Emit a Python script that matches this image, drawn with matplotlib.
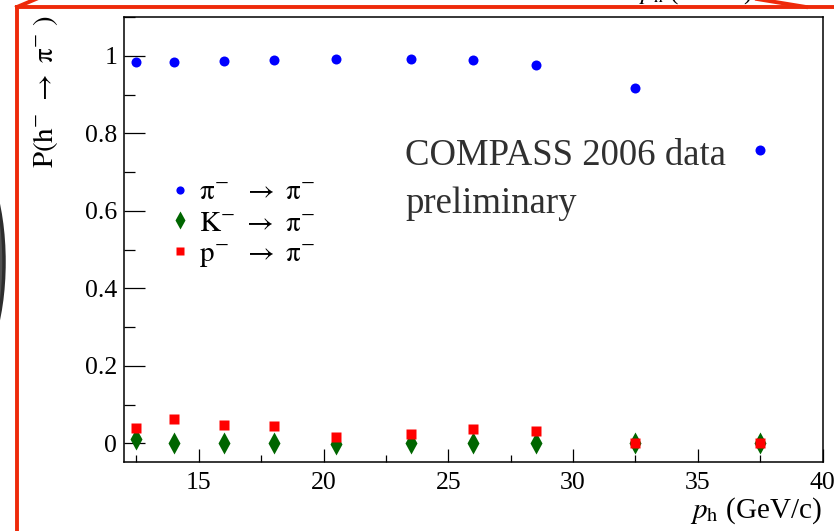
import numpy as np
import matplotlib
matplotlib.use("Agg")
import matplotlib.pyplot as plt
from matplotlib.ticker import MultipleLocator, FuncFormatter
from matplotlib.lines import Line2D
from matplotlib.patches import Ellipse

plt.rcParams['font.family'] = ['Liberation Serif', 'DejaVu Serif']
plt.rcParams['mathtext.fontset'] = 'stix'

# hadron momentum bins (GeV/c)
p_h = [12.5, 14, 16, 18, 20.5, 23.5, 26, 28.5, 32.5, 37.5]

# probability to be identified as pi-
prob_pi = [0.984, 0.984, 0.987, 0.989, 0.991, 0.991, 0.989, 0.977, 0.917, 0.757]
prob_K = [0.012, 0.0, 0.002, 0.001, -0.002, 0.0, 0.001, 0.001, 0.001, 0.002]
prob_p = [0.040, 0.062, 0.048, 0.046, 0.017, 0.023, 0.036, 0.032, 0.0, 0.0]

labels = [r"$\mathrm{\pi}^{-}\ \ \rightarrow\ \mathrm{\pi}^{-}$",
          r"$\mathrm{K}^{-}\ \rightarrow\ \mathrm{\pi}^{-}$",
          r"$\mathrm{p}^{-}\ \ \rightarrow\ \mathrm{\pi}^{-}$"]

W, H = 834, 531
fig = plt.figure(figsize=(W / 100, H / 100), dpi=100)
ax = fig.add_axes([124 / W, 1 - 462 / H, 698.5 / W, 445 / H])

ax.plot(p_h, prob_pi, 'o', color='#0000ff', ms=7.2, mec='none', label=labels[0])
ax.plot(p_h, prob_K, 'd', color='#006600', ms=11, mec='none', label=labels[1])
ax.plot(p_h, prob_p, 's', color='#ff0000', ms=7, mec='none', label=labels[2])

ax.set_xlim(12, 40)
ax.set_ylim(-0.048, 1.10)

ax.xaxis.set_major_locator(MultipleLocator(5))
ax.xaxis.set_minor_locator(MultipleLocator(2.5))
ax.yaxis.set_major_locator(MultipleLocator(0.2))
ax.yaxis.set_minor_locator(MultipleLocator(0.1))
ax.yaxis.set_major_formatter(FuncFormatter(lambda v, pos: '%g' % round(v, 2)))

ax.tick_params(axis='x', which='major', direction='in', length=9.4, width=0.9,
               labelsize=18.5, pad=7)
ax.tick_params(axis='x', which='minor', direction='in', length=4.8, width=0.9)
ax.tick_params(axis='y', which='major', direction='in', length=15, width=0.9,
               labelsize=18.5, pad=5)
ax.tick_params(axis='y', which='minor', direction='in', length=8, width=0.9)
for s in ax.spines.values():
    s.set_linewidth(1.1)

ax.legend(loc='upper left', bbox_to_anchor=(0.064, 0.635), frameon=False,
          handlelength=0.8, handletextpad=0.25, labelspacing=0.15,
          borderaxespad=0, borderpad=0, fontsize=21, markerscale=0.82)

fig.text(405 / W, 1 - 165 / H, "COMPASS 2006 data", fontsize=26.5,
         color='#303030', ha='left', va='baseline')
fig.text(405 / W, 1 - 213 / H, "preliminary", fontsize=26.5,
         color='#303030', ha='left', va='baseline')

# axis titles
fig.text(46 / W, 1 - 15 / H, r"$\mathrm{P(h^{-}\ \rightarrow\ \pi^{-}\ )}$", rotation=90,
         ha='center', va='top', fontsize=21)
fig.text(822 / W, 1 - 518 / H, r"$p_{\mathrm{h}}$ (GeV/c)", ha='right',
         va='baseline', fontsize=21)

# title of the panel above, mostly cut off
fig.text(752 / W, 1 + 1 / H, r"$p_{\mathrm{h}}$ (GeV/c)", ha='right',
         va='baseline', fontsize=18)

# red frame around the slide
red = '#ee2a0a'
frame = [((17, 834), (7, 7)), ((17, 17), (7, 531)), ((17, 36), (7, -1)),
         ((757, 806), (-1, 7))]
for xs, ys in frame:
    fig.add_artist(Line2D([x / W for x in xs], [1 - y / H for y in ys],
                          transform=fig.transFigure, color=red, lw=2.8,
                          solid_capstyle='projecting'))

# edge of a grey shape on the far left
fig.add_artist(Ellipse((-36 / W, 1 - 262 / H), 80 / W, 225 / H,
                       transform=fig.transFigure, facecolor='#505050',
                       edgecolor='#2e2e2e', lw=2.5))

fig.savefig("out.png", dpi=100)
